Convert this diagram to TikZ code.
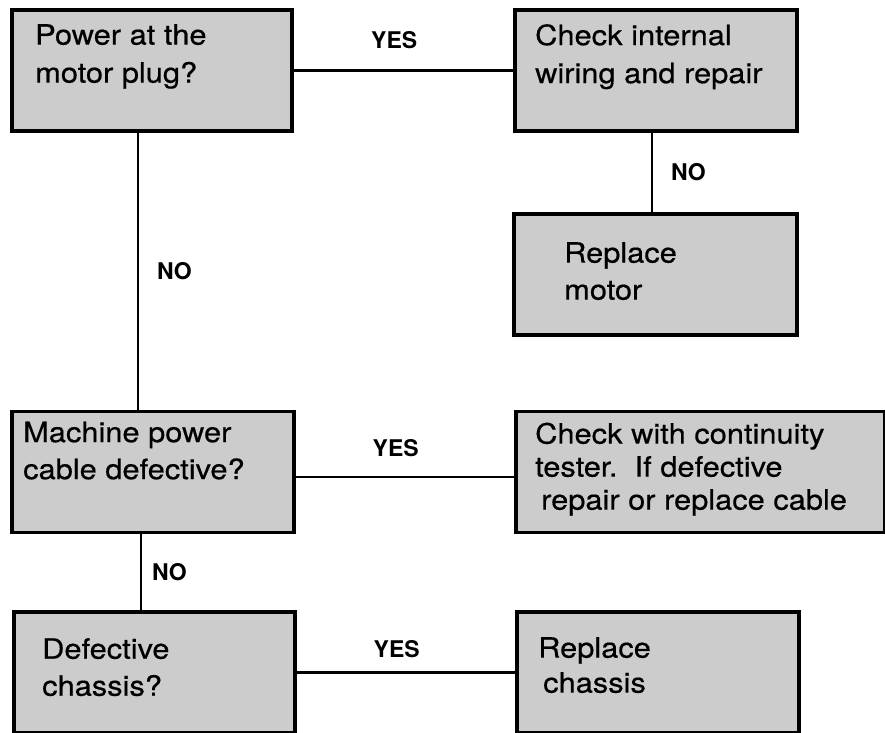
\documentclass[tikz,border=0pt]{standalone}
\usepackage{fontspec}
\setmainfont[FakeStretch=1.1, FakeBold=0.5]{TeX Gyre Heros}
\newfontfamily\yesnofont{TeX Gyre Heros}
\usetikzlibrary{positioning}

\tikzset{
	box/.style={draw, line width=3.5pt, fill=black!20, anchor=north west, minimum height=121pt, inner sep=0pt},
	boxtext/.style={align=left, inner sep=0pt, font=\fontsize{28}{38}\selectfont},
	wire/.style={line width=2.5pt},
	yesno/.style={inner sep=0pt, font=\yesnofont\bfseries\fontsize{23}{23}\selectfont},
}

\begin{document}
\begin{tikzpicture}[x=1pt, y=-1pt]
		\useasboundingbox (0,0) rectangle (885,732);
		% boxes, left column and right column
		\node[box, minimum width=280pt] (power) at (10,8) {};
		\node[box, minimum width=282pt] (wiring) at (513,8) {};
		\node[box, minimum width=283pt] (motor) at (512,212) {};
		\node[box, minimum width=282pt] (cable) at (10,409.5) {};
		\node[box, minimum width=369pt] (tester) at (514,409.5) {};
		\node[box, minimum width=281pt] (chassis) at (12,610) {};
		\node[box, minimum width=282pt] (replace) at (515,610) {};
		% texts
		\node[boxtext, below right=16pt and 25pt of power.north west] (powertext) {Power at the\\motor plug?};
		\node[boxtext, below right=16pt and 22pt of wiring.north west] (wiringtext) {Check internal\\wiring and repair};
		\node[boxtext, below right=30pt and 52pt of motor.north west, font=\fontsize{28}{37}\selectfont] (motortext) {Replace\\motor};
		\node[boxtext, below right=12pt and 13pt of cable.north west, font=\fontsize{28}{37}\selectfont] (cabletext) {Machine power\\cable defective?};
		\node[boxtext, below right=13pt and 21pt of tester.north west, font=\fontsize{28}{33}\selectfont] (testertext) {Check with continuity\\tester.\ \ If defective\\\hspace*{6pt}repair or replace cable};
		\node[boxtext, below right=28pt and 30pt of chassis.north west, font=\fontsize{28}{37}\selectfont] (chassistext) {Defective\\chassis?};
		\node[boxtext, below right=27pt and 23pt of replace.north west, font=\fontsize{28}{35}\selectfont] (replacetext) {Replace\\\hspace*{5pt}chassis};
		% connectors
		\draw[wire] (power) -- node[yesno, above=20pt, xshift=-9pt] {YES} (wiring);
		\draw[wire] ([xshift=-4pt]wiring.south) -- node[yesno, right=18pt] {NO} ([xshift=-4pt]wiring.south |- motor.north);
		\draw[wire] ([xshift=-14pt]power.south) -- node[yesno, right=18pt] {NO} ([xshift=-14pt]power.south |- cable.north);
		\draw[wire] ([yshift=-5pt]cable.east) -- node[yesno, above=19pt, xshift=-9pt] {YES} ([yshift=-5pt]cable.east -| tester.west);
		\draw[wire] ([xshift=-12pt]cable.south) -- node[yesno, right=10pt] {NO} ([xshift=-12pt]cable.south |- chassis.north);
		\draw[wire] (chassis) -- node[yesno, above=13pt, xshift=-9pt] {YES} (replace);
	\end{tikzpicture}
\end{document}
